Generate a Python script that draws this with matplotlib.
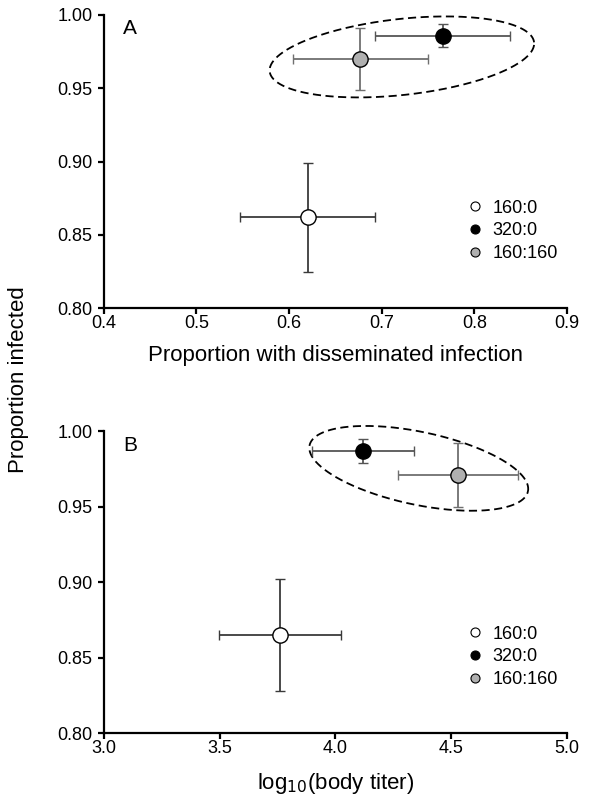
import numpy as np
import matplotlib
matplotlib.use("Agg")
import matplotlib.pyplot as plt
from matplotlib.lines import Line2D

plt.rcParams['font.family'] = ['Liberation Sans', 'DejaVu Sans']

groups = ['160:0', '320:0', '160:160']
face_colors = ['white', 'black', '#b0b0b0']
bar_colors = ['#3a3a3a', '#555555', '#707070']

prop_infected_a = [0.862, 0.986, 0.970]
prop_infected_b = [0.865, 0.987, 0.971]
infected_err = [0.037, 0.008, 0.021]
prop_dissem = [0.620, 0.766, 0.677]
dissem_err = [0.073, 0.073, 0.073]
log_titer = [3.76, 4.12, 4.53]
titer_err = [0.263, 0.22, 0.26]

xticks_a = [0.4, 0.5, 0.6, 0.7, 0.8, 0.9]
xticks_b = [3.0, 3.5, 4.0, 4.5, 5.0]
yticks = [0.80, 0.85, 0.90, 0.95, 1.00]

fig = plt.figure(figsize=(6.05, 7.97), dpi=100)
axA = fig.add_axes([0.1714, 0.6132, 0.7658, 0.368])
axB = fig.add_axes([0.1714, 0.0799, 0.7658, 0.3793])


def style(ax, xt, xlim, fmt):
    ax.set_xlim(*xlim)
    ax.set_ylim(0.80, 1.00)
    ax.set_xticks(xt)
    ax.set_xticklabels([fmt.format(v) for v in xt])
    ax.set_yticks(yticks)
    ax.set_yticklabels(['{:.2f}'.format(v) for v in yticks])
    for s in ['top', 'right']:
        ax.spines[s].set_visible(False)
    for s in ['left', 'bottom']:
        ax.spines[s].set_linewidth(1.6)
    ax.tick_params(direction='out', length=4, width=1.6, labelsize=13)
    ax.tick_params(axis='x', pad=1)
    ax.tick_params(axis='y', pad=4)


def draw(ax, xs, xe, ys, leg_y):
    for i in range(len(groups)):
        ax.errorbar(xs[i], ys[i], xerr=xe[i], yerr=infected_err[i],
                    fmt='o', ms=11, mfc=face_colors[i], mec='black', mew=1.0,
                    ecolor=bar_colors[i], elinewidth=1.3, capsize=3.5,
                    capthick=1.3, zorder=3)
    handles = [Line2D([], [], ls='none', marker='o', ms=6.5, mfc=face_colors[i],
                      mec='black', mew=0.8, label=groups[i]) for i in range(len(groups))]
    ax.legend(handles=handles, loc='center left', bbox_to_anchor=(0.778, leg_y),
              frameon=False, fontsize=13, handletextpad=0.35, labelspacing=0.32,
              handlelength=1.2, borderaxespad=0.0, borderpad=0.0)


def ellipse(ax, cx, cy, a_px, b_px, ang):
    c = ax.transData.transform((cx, cy))
    t = np.linspace(0, 2 * np.pi, 500)
    th = np.radians(ang)
    x = a_px * np.cos(t) * np.cos(th) - b_px * np.sin(t) * np.sin(th)
    y = a_px * np.cos(t) * np.sin(th) + b_px * np.sin(t) * np.cos(th)
    pts = ax.transData.inverted().transform(np.column_stack([c[0] + x, c[1] + y]))
    ax.plot(pts[:, 0], pts[:, 1], color='black', lw=1.3, ls=(0, (4.5, 2.5)),
            clip_on=False, zorder=2)


style(axA, xticks_a, (0.4, 0.9), '{:.1f}')
style(axB, xticks_b, (3.0, 5.0), '{:.1f}')
draw(axA, prop_dissem, dissem_err, prop_infected_a, 0.2636)
draw(axB, log_titer, titer_err, prop_infected_b, 0.253)

axA.set_xlabel('Proportion with disseminated infection', fontsize=16, labelpad=9)
axB.set_xlabel('log$_{10}$(body titer)', fontsize=16, labelpad=10)
fig.text(19 / 605, 1 - 380 / 797, 'Proportion infected', rotation=90,
         fontsize=16, ha='center', va='center')

axA.text(0.042, 0.985, 'A', transform=axA.transAxes, fontsize=15, va='top')
axB.text(0.042, 0.985, 'B', transform=axB.transAxes, fontsize=15, va='top')

ellipse(axA, 0.7218, 0.9714, 133, 38, 6.3)
ellipse(axB, 4.360, 0.9753, 111.6, 36.4, -11.9)

fig.savefig('out.png', dpi=100)
